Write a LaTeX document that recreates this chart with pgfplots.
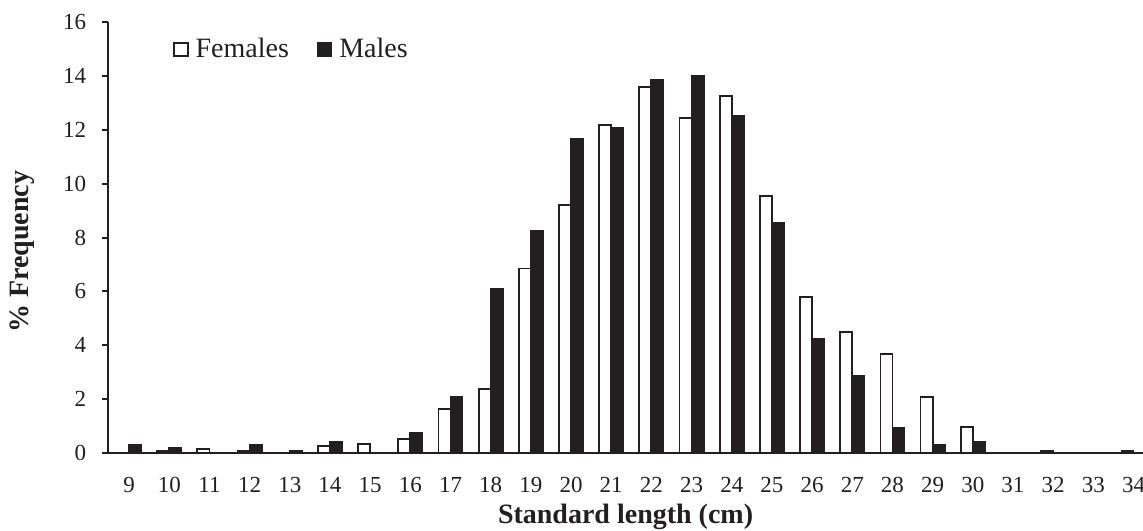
\documentclass[border=0pt]{standalone}
\usepackage{fontspec}
\setmainfont{Liberation Serif}
\usepackage{pgfplots}
\pgfplotsset{compat=1.18}
\definecolor{ink}{RGB}{35,31,32}

\begin{document}
\begin{tikzpicture}
\pgfplotsset{sqlegend/.style={legend image code/.code={\draw[##1, line width=0.9pt] (0pt,-3.4pt) rectangle (6.8pt,3.4pt);}}}
\begin{axis}[
  at={(0pt,0pt)}, anchor=south west,
  scale only axis, width=522.8pt, height=215.5pt,
  xmin=8.475, xmax=34.5, ymin=0, ymax=16,
  axis lines=left, axis line style={-, draw=ink, line width=1pt},
  xtick={9,...,34}, ytick={0,2,...,16},
  xtick style={draw=none},
  ytick style={draw=ink, line width=1pt},
  tick align=outside, major tick length=3pt,
  /pgf/number format/assume math mode=true,
  tick label style={font=\fontsize{11.5}{13}\selectfont, text=ink},
  xticklabel style={yshift=-5.5pt},
  yticklabel style={xshift=-4.4pt},
  xlabel={\textbf{Standard length (cm)}},
  ylabel={\textbf{\% Frequency}},
  label style={font=\fontsize{14}{16}\selectfont, text=ink},
  xlabel style={at={(axis description cs:0.495,-0.1631)}, anchor=base},
  ylabel style={at={(axis description cs:-0.0762,0.467)}, anchor=base},
  legend style={at={(axis description cs:0.062,0.936)}, anchor=west,
    draw=none, fill=none, inner sep=0pt,
    font=\fontsize{14}{16}\selectfont, text=ink,
    /tikz/column 1/.style={column sep=1.5pt},
    /tikz/column 2/.style={column sep=12pt},
    /tikz/column 3/.style={column sep=1.5pt}},
  legend columns=2,
  legend cell align=left,
]
% Females
\addplot[ybar, bar width=0.3, bar shift=-0.15, fill=white, draw=ink, line width=0.9pt, sqlegend] coordinates {
  (10,0.08)(11,0.15)(12,0.08)(14,0.26)(15,0.33)(16,0.51)(17,1.63)(18,2.37)
  (19,6.85)(20,9.22)(21,12.18)(22,13.59)(23,12.44)(24,13.25)(25,9.55)(26,5.79)
  (27,4.49)(28,3.67)(29,2.09)(30,0.98)(32,0.08)(34,0.08)
};
\addlegendentry{Females}
% Males
\addplot[ybar, bar width=0.3, bar shift=0.15, fill=ink, draw=ink, line width=0.9pt, sqlegend] coordinates {
  (9,0.30)(10,0.20)(12,0.30)(13,0.08)(14,0.42)(16,0.73)(17,2.07)(18,6.09)
  (19,8.26)(20,11.66)(21,12.07)(22,13.85)(23,14.01)(24,12.50)(25,8.56)(26,4.24)
  (27,2.87)(28,0.94)(29,0.30)(30,0.42)
};
\addlegendentry{Males}
\end{axis}
\pgfresetboundingbox
\path[use as bounding box] (-54pt,-38.5pt) rectangle (517.5pt,226.5pt);
\end{tikzpicture}
\end{document}
